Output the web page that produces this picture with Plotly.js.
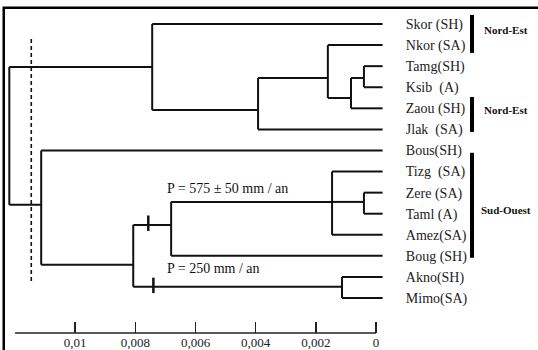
<!DOCTYPE html>
<html>
<head>
<meta charset="utf-8">
<script src="https://cdn.plot.ly/plotly-3.0.1.min.js"></script>
<style>html,body{margin:0;padding:0;background:#fff;}#chart{width:538px;height:350px;}</style>
</head>
<body>
<div id="chart"></div>
<script>
// ---- data ----
var leafNames = ['Skor (SH)', 'Nkor (SA)', 'Tamg(SH)', 'Ksib \u00a0(A)', 'Zaou (SH)', 'Jlak \u00a0(SA)',
  'Bous(SH)', 'Tizg \u00a0(SA)', 'Zere (SA)', 'Taml (A)', 'Amez(SA)', 'Boug (SH)', 'Akno(SH)', 'Mimo(SA)'];
var leafDist = -0.00022;                 // leaves end just right of 0
// internal nodes: id, linkage distance, position where it joins its parent, children
var nodeIds      = ['root', 'A', 'B', 'C', 'D', 'E', 'F', 'G', 'H', 'I', 'J', 'K'];
var nodeDist     = [0.01219, 0.00744, 0.00392, 0.00160, 0.00083, 0.00040, 0.01113, 0.00807, 0.00681, 0.00146, 0.00040, 0.00113];
var nodeAttach   = [null, 2.04, 4.08, 2.56, 3.51, 2.56, 8.58, 11.42, 9.53, 8.44, 8.44, 12.46];
var nodeChildren = [['A', 'F'], [0, 'B'], ['C', 5], [1, 'D'], ['E', 4], [2, 3],
  [6, 'G'], ['H', 'K'], ['I', 11], [7, 'J', 10], [8, 9], [12, 13]];
// dashed cut line
var cutDist = 0.01146, cutFrom = 0.71, cutTo = 12.27;
// rainfall marks on the two south-west branches
var markDist = [0.00757, 0.00740];
var markY    = [9.45, 12.4];
var rainText = ['P = 575 \u00b1 50 mm / an', 'P = 250 mm / an'];
var rainDist = [0.00701, 0.00701];
var rainY    = [7.82, 11.61];
// regional groups
var groupNames = ['Nord-Est', 'Nord-Est', 'Sud-Ouest'];
var groupFrom  = [-0.43, 3.46, 6.11];
var groupTo    = [1.37, 5.12, 11.09];
var groupLabelY = [0.28, 4.08, 8.8];
// axis
var tickVals = [0.01, 0.008, 0.006, 0.004, 0.002, 0];
var tickText = ['0,01', '0,008', '0,006', '0,004', '0,002', '0'];
var axisExtent = [0.012, 0];

// ---- build segments ----
function nodeIndex(id) { return nodeIds.indexOf(id); }
function childPos(c) {
  if (typeof c === 'number') return {x: leafDist, y: c};
  var k = nodeIndex(c);
  return {x: nodeDist[k], y: nodeAttach[k]};
}
var sx = [], sy = [];
for (var i = 0; i < nodeIds.length; i++) {
  var ch = nodeChildren[i].map(childPos);
  var ys = ch.map(function (p) { return p.y; });
  sx.push(nodeDist[i], nodeDist[i], null);
  sy.push(Math.min.apply(null, ys), Math.max.apply(null, ys), null);
  ch.forEach(function (p) {
    sx.push(nodeDist[i], p.x, null);
    sy.push(p.y, p.y, null);
  });
}

var serif = '"Liberation Serif", "DejaVu Serif", serif';
var traces = [
  {x: sx, y: sy, mode: 'lines', type: 'scatter', line: {color: '#111', width: 2}, hoverinfo: 'skip', showlegend: false},
  {x: [cutDist, cutDist], y: [cutFrom, cutTo], mode: 'lines', type: 'scatter',
   line: {color: '#111', width: 1.6, dash: '4px,3px'}, hoverinfo: 'skip', showlegend: false},
  {x: markDist, y: markY, mode: 'markers', type: 'scatter',
   marker: {symbol: 'line-ns', size: 11, line: {color: '#111', width: 2.5}}, hoverinfo: 'skip', showlegend: false}
];

// ---- layout ----
var M = {l: 6, r: 153, t: 13, b: 17};
var W = 538 - M.l - M.r, H = 350 - M.t - M.b;
function px2paperX(px) { return (px - M.l) / W; }
function px2paperY(py) { return (350 - M.b - py) / H; }

var shapes = [
  // outer frame (visible on top and left in the reference)
  {type: 'rect', xref: 'paper', yref: 'paper', x0: px2paperX(3.75), x1: px2paperX(560), y0: px2paperY(380), y1: px2paperY(7.75),
   line: {color: '#000', width: 2.5}},
  // axis baseline
  {type: 'line', xref: 'x', yref: 'paper', x0: axisExtent[0], x1: axisExtent[1], y0: 0, y1: 0,
   line: {color: '#222', width: 1.5}}
];
var annotations = [];
for (var g = 0; g < groupNames.length; g++) {
  shapes.push({type: 'line', xref: 'paper', yref: 'y', x0: px2paperX(472), x1: px2paperX(472),
    y0: groupFrom[g], y1: groupTo[g], line: {color: '#000', width: 4}});
  annotations.push({xref: 'paper', yref: 'y', x: px2paperX(506), y: groupLabelY[g], text: '<b>' + groupNames[g] + '</b>',
    showarrow: false, xanchor: 'center', yanchor: 'middle', font: {family: serif, size: 11, color: '#111'}});
}
for (var r = 0; r < rainText.length; r++) {
  annotations.push({xref: 'x', yref: 'y', x: rainDist[r], y: rainY[r], text: rainText[r], showarrow: false,
    xanchor: 'left', yanchor: 'middle', font: {family: serif, size: 14, color: '#111'}});
}

var layout = {
  width: 538, height: 350, margin: M,
  paper_bgcolor: '#fff', plot_bgcolor: '#fff', showlegend: false,
  xaxis: {range: [0.0123, -0.0003], showgrid: false, zeroline: false, showline: false,
    tickvals: tickVals, ticktext: tickText, ticks: 'inside', ticklen: 11, tickwidth: 1.5, tickcolor: '#222',
    tickfont: {family: serif, size: 13, color: '#222'}, fixedrange: true},
  yaxis: {range: [14.659, -0.522], side: 'right', showgrid: false, zeroline: false, showline: false,
    tickvals: leafNames.map(function (_, i) { return i; }), ticktext: leafNames,
    ticks: 'outside', ticklen: 17, tickcolor: 'rgba(0,0,0,0)',
    tickfont: {family: serif, size: 14, color: '#222'}, fixedrange: true},
  shapes: shapes, annotations: annotations
};
Plotly.newPlot('chart', traces, layout, {staticPlot: true, displayModeBar: false});
</script>
</body>
</html>
